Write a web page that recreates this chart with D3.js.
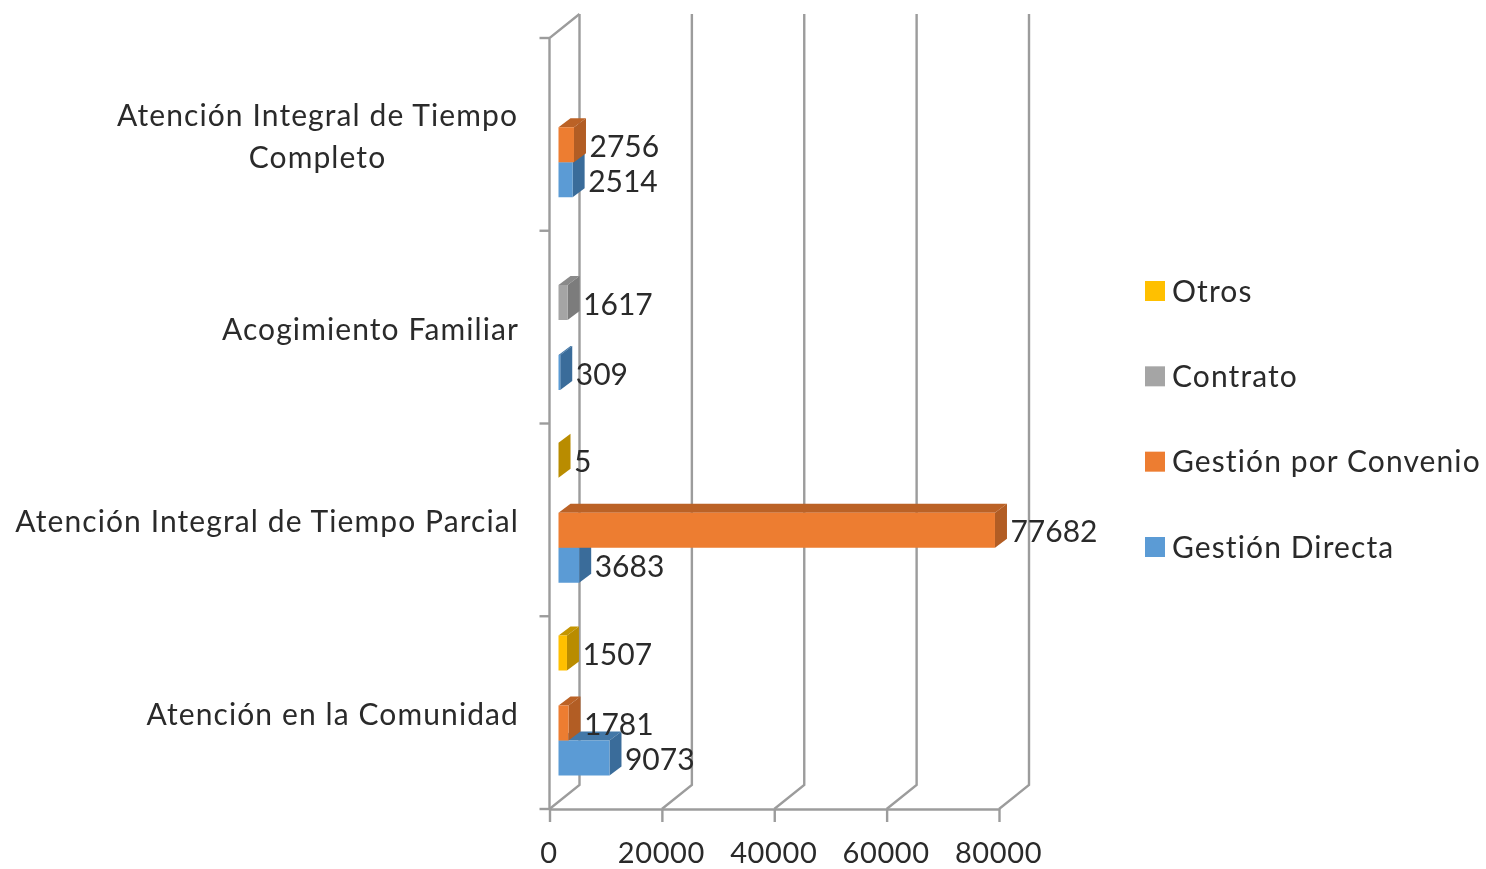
<!DOCTYPE html>
<html><head><meta charset="utf-8">
<script src="https://cdn.jsdelivr.net/npm/d3@7"></script>
<style>html,body{margin:0;background:#fff}svg{display:block;filter:blur(0.5px)}text{font-family:Lato,"Open Sans",sans-serif;fill:#2a2a2a}</style>
</head><body><svg id="c" width="1486" height="869"></svg>
<script>
const categories=["Atención en la Comunidad","Atención Integral de Tiempo Parcial","Acogimiento Familiar","Atención Integral de Tiempo Completo"];
const categoryLines=[["Atención en la Comunidad"],["Atención Integral de Tiempo Parcial"],["Acogimiento Familiar"],["Atención Integral de Tiempo","Completo"]];
const seriesNames=["Gestión Directa","Gestión por Convenio","Contrato","Otros"];
const gestionDirecta=[9073,3683,309,2514];
const gestionConvenio=[1781,77682,null,2756];
const contrato=[null,null,1617,null];
const otros=[1507,5,null,null];
const seriesValues=[gestionDirecta,gestionConvenio,contrato,otros];
const colors=["#5b9bd5","#ed7d31","#a5a5a5","#ffc000"];
const sideColors=["#3a6c9a","#b25d24","#7c7c7c","#b98c00"];
const topColors=["#4378a8","#bb6226","#8a8a8a","#c49500"];
const xTicks=[0,20000,40000,60000,80000];

const svg=d3.select("#c");
const x=d3.scaleLinear().domain([0,80000]).range([549.5,999]);
const y=d3.scaleBand().domain(categories).range([809,38]);
const inner=d3.scaleBand().domain(seriesNames).range([0,-140]);
const wallDx=30,wallDy=-24,barInset=9,barDx=12,barDy=-9,bottomGap=33.5;
const grid="#9c9c9c";

// walls
const g=svg.append("g").attr("fill","none").attr("stroke",grid).attr("stroke-width",2.4);
const y0=y.range()[0],y1=y.range()[1];
g.selectAll(".w").data(xTicks).join("polyline").attr("class","w")
  .attr("points",d=>`${x(d)},${y0} ${x(d)+wallDx},${y0+wallDy} ${x(d)+wallDx},${y1+wallDy}`);
g.append("polyline").attr("points",`${x(0)},${y0} ${x(0)},${y1} ${x(0)+wallDx},${y1+wallDy}`);

// axes
const ax=svg.append("g").attr("transform",`translate(0,${y0})`)
  .call(d3.axisBottom(x).tickValues(xTicks).tickFormat(d3.format("d")).tickSize(13).tickSizeOuter(0).tickPadding(20.5));
ax.select(".domain").attr("stroke",grid).attr("stroke-width",2.4);
ax.selectAll("line").attr("stroke",grid).attr("stroke-width",2.4);
ax.selectAll("text").attr("font-size",29).attr("letter-spacing",0.6).attr("font-family","Lato").attr("fill","#2a2a2a").attr("dx",-1);
const bandTicks=y.domain().map(c=>y(c)).concat([y0]);
svg.append("g").selectAll("line").data(bandTicks).join("line")
  .attr("x1",x(0)-10).attr("x2",x(0)).attr("y1",d=>d).attr("y2",d=>d).attr("stroke",grid).attr("stroke-width",2.4);

// bars, lowest series first so each front face overlaps the top below it
const marks=[];
categories.forEach((c,ci)=>seriesNames.forEach((s,si)=>{
  const v=seriesValues[si][ci];
  if(v!==null) marks.push({c,s,si,v});
}));
const bars=svg.append("g");
marks.forEach(m=>{
  const l=x(0)+barInset, r=x(m.v)+barInset;
  const b=y(m.c)+y.bandwidth()-bottomGap+inner(m.s), h=inner.bandwidth();
  bars.append("polygon").attr("fill",topColors[m.si])
    .attr("points",`${l},${b} ${l+barDx},${b+barDy} ${r+barDx},${b+barDy} ${r},${b}`);
  bars.append("polygon").attr("fill",sideColors[m.si])
    .attr("points",`${r},${b} ${r+barDx},${b+barDy} ${r+barDx},${b+h+barDy} ${r},${b+h}`);
  bars.append("rect").attr("fill",colors[m.si]).attr("x",l).attr("y",b).attr("width",r-l).attr("height",h);
});
svg.append("g").selectAll("text").data(marks).join("text")
  .attr("x",d=>x(d.v)+barInset+barDx+3.5)
  .attr("y",d=>y(d.c)+y.bandwidth()-bottomGap+inner(d.s)+inner.bandwidth()/2+1.5)
  .attr("dy","0.35em").attr("font-size",30).text(d=>d.v);

// category labels
categories.forEach((c,i)=>{
  const lines=categoryLines[i], cy=y(c)+y.bandwidth()/2+2;
  const multi=lines.length>1;
  const t=svg.append("text").attr("font-size",30).attr("letter-spacing",1.1).attr("text-anchor",multi?"middle":"end");
  lines.forEach((ln,j)=>t.append("tspan").attr("x",multi?317.5:519)
    .attr("y",cy+(j-(lines.length-1)/2)*42).attr("dy","0.35em").text(ln));
});

// legend
const legendY=d3.scalePoint().domain(seriesNames.slice().reverse()).range([291,547]);
const lg=svg.append("g").selectAll("g").data(seriesNames).join("g")
  .attr("transform",d=>`translate(1145,${legendY(d)})`);
lg.append("rect").attr("y",-10).attr("width",20).attr("height",20).attr("fill",(d,i)=>colors[i]);
lg.append("text").attr("x",27).attr("dy","0.35em").attr("font-size",30).attr("letter-spacing",1.1).text(d=>d);
</script></body></html>
